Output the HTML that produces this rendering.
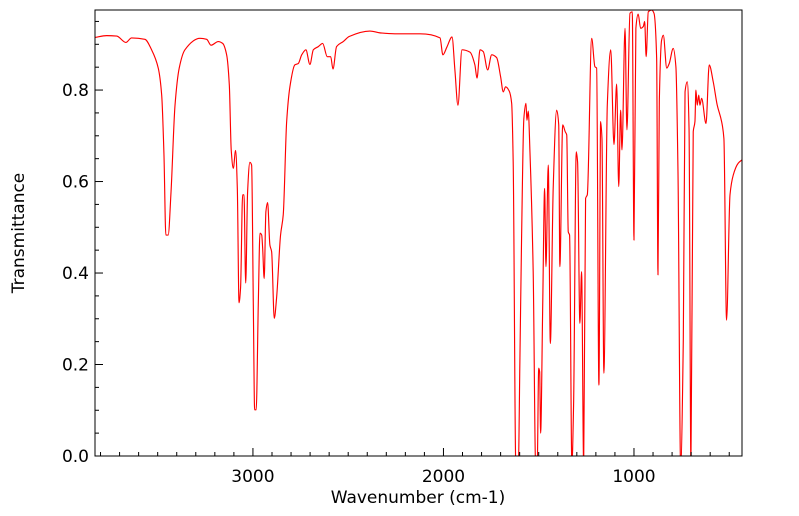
<!DOCTYPE html>
<html><head><meta charset="utf-8">
<style>
html,body{margin:0;padding:0;background:#fff;}
svg{display:block;font-family:"DejaVu Sans","Liberation Sans",sans-serif;}
</style></head>
<body>
<svg id="chart" width="799" height="516" viewBox="0 0 799 516" xmlns="http://www.w3.org/2000/svg">
<defs><clipPath id="clip"><rect x="95" y="10" width="647" height="446"/></clipPath></defs>
<rect x="95" y="10" width="647" height="446" fill="#fff"/>
<path id="spectrum" fill="none" stroke="#ff0000" stroke-width="1.15" stroke-linejoin="round" clip-path="url(#clip)"/>
<rect x="95" y="10" width="647" height="446" fill="none" stroke="#000" stroke-width="1"/>
<g id="axes"></g>
<text x="418" y="503" font-size="17" text-anchor="middle">Wavenumber (cm-1)</text>
<text transform="translate(24,233) rotate(-90)" font-size="17" text-anchor="middle">Transmittance</text>
</svg>
<script>
const wavenumbers = [3829,3768,3715,3667,3637,3567,3532,3497,3479,3467,3457,3445,3430,3409,3387,3357,3278,3243,3220,3182,3159,3138,3124,3114,3103,3091,3082,3073,3065,3054,3047,3038,3028,3016,3007,2998,2991,2983,2972,2963,2954,2949,2941,2932,2923,2911,2902,2888,2876,2855,2841,2823,2806,2780,2762,2744,2722,2701,2683,2657,2634,2610,2592,2580,2561,2526,2495,2386,2333,2255,2123,2018,2003,1982,1955,1940,1924,1903,1861,1835,1824,1808,1791,1768,1747,1721,1700,1686,1674,1655,1642,1634,1620,1607,1599,1590,1578,1567,1562,1555,1546,1529,1516,1508,1500,1495,1490,1479,1469,1462,1450,1439,1424,1406,1395,1389,1374,1361,1353,1345,1338,1326,1317,1303,1296,1284,1275,1264,1254,1245,1222,1205,1196,1184,1175,1168,1158,1140,1122,1105,1091,1080,1070,1063,1047,1037,1021,1009,1000,990,978,965,951,944,936,925,907,895,881,874,867,855,846,828,815,794,780,769,755,741,732,720,711,701,689,680,675,668,660,654,645,622,605,584,563,540,528,514,496,479,453,428];
const transmittance = [0.915,0.919,0.918,0.904,0.914,0.911,0.888,0.848,0.789,0.658,0.483,0.483,0.577,0.767,0.848,0.888,0.913,0.911,0.898,0.906,0.902,0.877,0.811,0.669,0.629,0.668,0.585,0.335,0.367,0.571,0.571,0.378,0.578,0.642,0.636,0.330,0.101,0.101,0.330,0.487,0.483,0.454,0.388,0.534,0.554,0.461,0.447,0.301,0.345,0.483,0.527,0.731,0.807,0.855,0.858,0.877,0.888,0.856,0.888,0.895,0.902,0.873,0.873,0.846,0.895,0.906,0.917,0.929,0.925,0.923,0.923,0.914,0.877,0.894,0.916,0.844,0.767,0.888,0.883,0.855,0.826,0.888,0.884,0.844,0.877,0.871,0.829,0.796,0.807,0.798,0.771,0.643,-0.02,-0.02,0.203,0.476,0.738,0.771,0.734,0.754,0.665,0.403,-0.02,-0.02,0.192,0.184,0.050,0.330,0.585,0.414,0.636,0.246,0.585,0.756,0.724,0.414,0.724,0.709,0.702,0.490,0.483,-0.02,0.111,0.665,0.643,0.290,0.403,-0.02,0.563,0.571,0.913,0.851,0.848,0.155,0.731,0.694,0.181,0.767,0.888,0.681,0.813,0.589,0.756,0.669,0.935,0.713,0.968,0.971,0.472,0.935,0.966,0.935,0.939,0.950,0.873,0.971,0.975,0.968,0.869,0.396,0.775,0.909,0.920,0.848,0.858,0.891,0.851,0.621,-0.02,0.257,0.796,0.818,0.716,-0.02,0.709,0.731,0.800,0.767,0.789,0.767,0.782,0.727,0.855,0.818,0.767,0.731,0.694,0.297,0.571,0.614,0.640,0.649];
const xTickLabels = ["3000","2000","1000"];
const yTickLabels = ["0.0","0.2","0.4","0.6","0.8"];

const NS = "http://www.w3.org/2000/svg";
const X0 = 95, X1 = 742, Y0 = 456, Y1 = 10;
const WMAX = 3829, WMIN = 433, TMIN = 0, TMAX = 0.975;
function xScale(w){ return X0 + (WMAX - w) * (X1 - X0) / (WMAX - WMIN); }
function yScale(t){ return Y0 - (t - TMIN) * (Y0 - Y1) / (TMAX - TMIN); }

// monotone cubic (Fritsch-Carlson) path
function monotonePath(xs, ys){
  const n = xs.length;
  const dx = [], m = [], t = new Array(n);
  for (let i = 0; i < n-1; i++){ dx[i] = xs[i+1]-xs[i]; m[i] = (ys[i+1]-ys[i])/dx[i]; }
  t[0] = m[0]; t[n-1] = m[n-2];
  for (let i = 1; i < n-1; i++){
    if (m[i-1]*m[i] <= 0) t[i] = 0;
    else { const w1 = 2*dx[i]+dx[i-1], w2 = dx[i]+2*dx[i-1]; t[i] = (w1+w2)/(w1/m[i-1]+w2/m[i]); }
  }
  let d = "M" + xs[0].toFixed(2) + "," + ys[0].toFixed(2);
  for (let i = 0; i < n-1; i++){
    const h = dx[i]/3;
    d += "C" + (xs[i]+h).toFixed(2) + "," + (ys[i]+t[i]*h).toFixed(2) + " " +
         (xs[i+1]-h).toFixed(2) + "," + (ys[i+1]-t[i+1]*h).toFixed(2) + " " +
         xs[i+1].toFixed(2) + "," + ys[i+1].toFixed(2);
  }
  return d;
}
const px = wavenumbers.map(xScale), py = transmittance.map(yScale);
document.getElementById("spectrum").setAttribute("d", monotonePath(px, py));

const axes = document.getElementById("axes");
function line(x1,y1,x2,y2){
  const l = document.createElementNS(NS,"line");
  l.setAttribute("x1",x1);l.setAttribute("y1",y1);l.setAttribute("x2",x2);l.setAttribute("y2",y2);
  l.setAttribute("stroke","#000");l.setAttribute("stroke-width","1");
  return l;
}
for (let w = 500; w <= 3800; w += 100) {
  const x = xScale(w);
  const major = w % 1000 === 0;
  const t = line(x, Y0, x, Y0 - (major ? 8 : 4));
  
  
  axes.appendChild(t);
}
xTickLabels.forEach(s => {
  const tx = document.createElementNS(NS,"text");
  tx.setAttribute("x", xScale(parseFloat(s)));
  tx.setAttribute("y", 482);
  tx.setAttribute("font-size","17");
  tx.setAttribute("text-anchor","middle");
  tx.textContent = s;
  
  
  axes.appendChild(tx);
});
for (let k = 0; k <= 19; k++) {
  const v = k * 0.05;
  const y = yScale(v);
  const major = k % 4 === 0;
  const t = line(X0, y, X0 + (major ? 8 : 4), y);
  
  
  axes.appendChild(t);
}
yTickLabels.forEach(s => {
  const tx = document.createElementNS(NS,"text");
  tx.setAttribute("x", 89);
  tx.setAttribute("y", yScale(parseFloat(s)) + 6);
  tx.setAttribute("font-size","17");
  tx.setAttribute("text-anchor","end");
  tx.textContent = s;
  
  
  axes.appendChild(tx);
});
</script>
</body></html>
